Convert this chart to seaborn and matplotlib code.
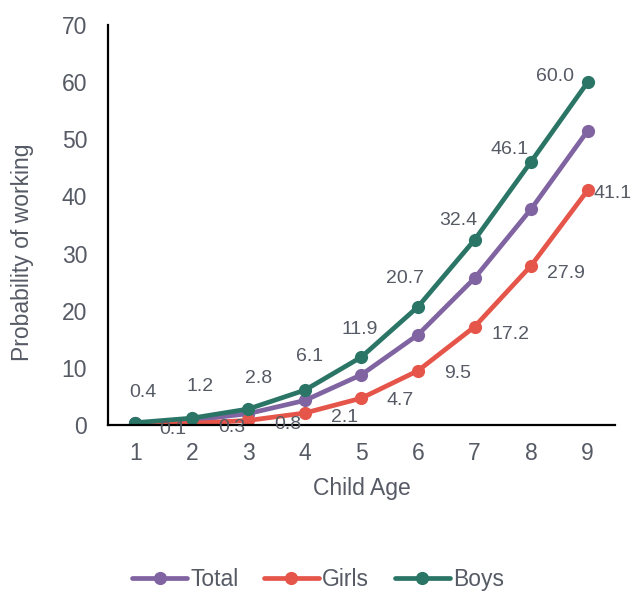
import numpy as np
import pandas as pd
import matplotlib
matplotlib.use("Agg")
import matplotlib.pyplot as plt
import seaborn as sns

ages  = [1, 2, 3, 4, 5, 6, 7, 8, 9]
total = [0.3, 0.8, 2.0, 4.3, 8.8, 15.8, 25.7, 37.8, 51.5]
girls = [0.1, 0.3, 0.8, 2.1, 4.7, 9.5, 17.2, 27.9, 41.1]
boys  = [0.4, 1.2, 2.8, 6.1, 11.9, 20.7, 32.4, 46.1, 60.0]

# label offsets in pixels (dx, dy)
boys_off  = [(8, 30), (8, 32), (10, 31), (5, 34), (-2, 28), (-13, 28),
             (-16, 19), (-22, 12), (-33, 6)]
girls_off = [(38, -5), (40, -4), (40, -4), (40, -4), (39, -2), (40, -3),
             (36, -8), (35, -8), (25, -3)]

df = pd.DataFrame({"age": ages * 3,
                   "prob": total + girls + boys,
                   "group": ["Total"] * 9 + ["Girls"] * 9 + ["Boys"] * 9})

sns.set_style("white")
plt.rcParams["font.family"] = ["Liberation Sans", "DejaVu Sans"]
TXT = "#555a64"
FS = 16.5
palette = {"Total": "#8064A2", "Girls": "#E5554A", "Boys": "#2A7566"}

fig = plt.figure(figsize=(6.36, 5.94), dpi=100)
ax = fig.add_axes([0.1698, 0.2845, 0.797, 0.6734])
sns.lineplot(data=df, x="age", y="prob", hue="group", palette=palette,
             marker="o", markersize=9.5, markeredgewidth=0, linewidth=3.4, ax=ax)

for x, y, (dx, dy) in zip(ages, boys, boys_off):
    ax.annotate(f"{y:.1f}", (x, y), xytext=(dx, dy), textcoords="offset pixels",
                ha="center", va="center", fontsize=14, color=TXT)
for x, y, (dx, dy) in zip(ages, girls, girls_off):
    ax.annotate(f"{y:.1f}", (x, y), xytext=(dx, dy), textcoords="offset pixels",
                ha="center", va="center", fontsize=14, color=TXT,
                annotation_clip=False)

ax.set_xlim(0.52, 9.48)
ax.set_ylim(0, 70)
ax.set_xticks(ages)
ax.set_yticks(range(0, 71, 10))
ax.tick_params(axis="both", labelsize=FS, colors=TXT, length=0)
ax.tick_params(axis="x", pad=12)
ax.tick_params(axis="y", pad=15)
for s in ["top", "right"]:
    ax.spines[s].set_visible(False)
for s in ["left", "bottom"]:
    ax.spines[s].set_color("black")
    ax.spines[s].set_linewidth(1.6)
ax.set_xlabel("Child Age", fontsize=FS, color=TXT, va="center")
ax.set_ylabel("Probability of working", fontsize=FS, color=TXT, va="center")
ax.xaxis.set_label_coords(0.501, -0.158)
ax.yaxis.set_label_coords(-0.168, 0.432)

handles, labels = ax.get_legend_handles_labels()
ax.legend(handles, labels, loc="center", bbox_to_anchor=(0.5, 0.024),
          bbox_transform=fig.transFigure, ncol=3, frameon=False,
          fontsize=FS, labelcolor=TXT, handlelength=2.4, handletextpad=0.15,
          columnspacing=1.1, borderpad=0)

fig.savefig("out.png", dpi=100)
